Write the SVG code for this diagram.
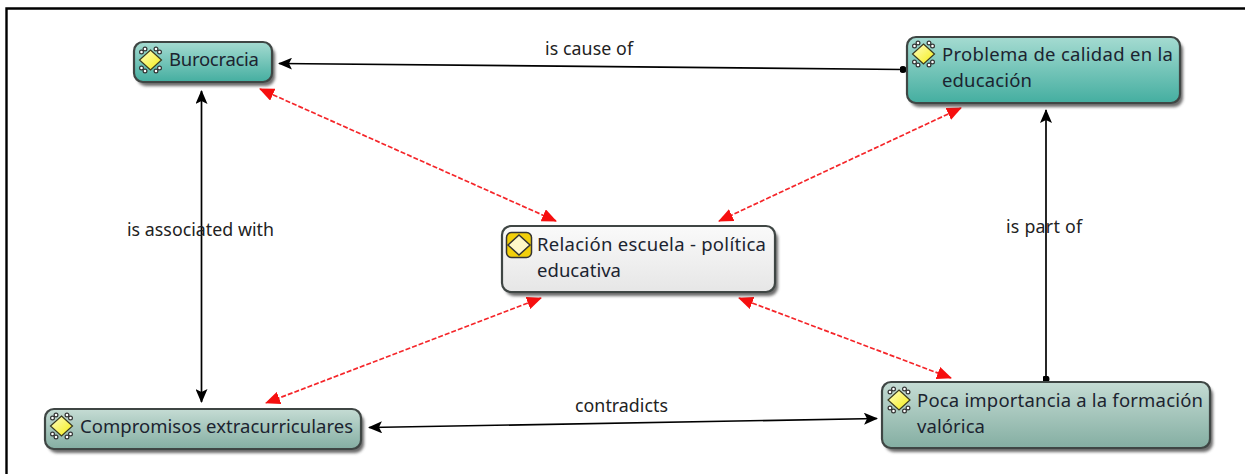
<svg xmlns="http://www.w3.org/2000/svg" width="1245" height="474" viewBox="0 0 1245 474">
<style>
text{font-family:"Noto Sans","Open Sans","DejaVu Sans",sans-serif;font-size:18.5px;fill:#1c2430}
.box{stroke:#3f4644;stroke-width:2.2}
.shadow{fill:#444;opacity:.8;filter:url(#soft)}
.link{fill:none;stroke:#000;stroke-width:1.7}
.rel{fill:none;stroke:#f5262a;stroke-width:1.7;stroke-dasharray:5 2}
.lbl{font-size:17.8px;fill:#222}
</style>
<defs>
<filter id="soft" x="-10%" y="-20%" width="120%" height="140%"><feGaussianBlur stdDeviation="1.6"/></filter>
<linearGradient id="teal" x1="0" y1="0" x2="0" y2="1"><stop offset="0" stop-color="#a5dbd1"/><stop offset="1" stop-color="#44aea0"/></linearGradient>
<linearGradient id="sage2" x1="0" y1="0" x2="0" y2="1"><stop offset="0" stop-color="#c5dcd4"/><stop offset="1" stop-color="#84aea2"/></linearGradient>
<linearGradient id="grey" x1="0" y1="0" x2="0" y2="1"><stop offset="0" stop-color="#fafafa"/><stop offset="1" stop-color="#e6e6e6"/></linearGradient>
<linearGradient id="yel" x1="0" y1="0" x2="1" y2="1"><stop offset="0" stop-color="#ffffc8"/><stop offset="1" stop-color="#f4ec10"/></linearGradient>
<marker id="a" viewBox="0 0 14 12" refX="13" refY="6" markerWidth="14" markerHeight="12" markerUnits="userSpaceOnUse" orient="auto-start-reverse"><path d="M0 0L14 6L0 12L3 6Z" fill="#000"/></marker>
<marker id="r" viewBox="0 0 15 13" refX="14" refY="6.500" markerWidth="15" markerHeight="13" markerUnits="userSpaceOnUse" orient="auto-start-reverse"><path d="M0 0L15 6.500L0 13Z" fill="#f60f0f"/></marker>
<marker id="d" viewBox="0 0 8 8" refX="4" refY="4" markerWidth="7" markerHeight="7" markerUnits="userSpaceOnUse"><circle cx="4" cy="4" r="4" fill="#000"/></marker>
<g id="ic">
<g fill="#fff" stroke="#333" stroke-width="1.200"><circle cx="-9" cy="-8" r="1.900"/><circle cx="-5.500" cy="-11" r="1.900"/><circle cx="5.500" cy="-11" r="1.900"/><circle cx="9" cy="-8" r="1.900"/><circle cx="-9" cy="8" r="1.900"/><circle cx="-5.500" cy="11" r="1.900"/><circle cx="5.500" cy="11" r="1.900"/><circle cx="9" cy="8" r="1.900"/></g>
<path d="M0-10L11 0L0 10L-11 0Z" fill="url(#yel)" stroke="#3a3a20" stroke-width="1.200"/>
</g>
<g id="ic2">
<rect x="-12.500" y="-12.500" width="25" height="25" rx="5" fill="#f2cf0a" stroke="#333" stroke-width="1.500"/>
<path d="M0-10L11 0L0 10L-11 0Z" fill="#fff8c8" stroke="#333" stroke-width="1.500"/>
</g>
</defs>
<rect width="1245" height="474" fill="#fff"/>
<path d="M6.500 474V8.500H1245" fill="none" stroke="#000" stroke-width="2.400"/>
<g id="connectors">
<path class="link" d="M903 69.500L279 63.500" marker-start="url(#d)" marker-end="url(#a)"/>
<path class="link" d="M201.500 91V402" marker-start="url(#a)" marker-end="url(#a)"/>
<path class="link" d="M1046 379V110" marker-start="url(#d)" marker-end="url(#a)"/>
<path class="link" d="M369 427.500L877 418.500" marker-start="url(#a)" marker-end="url(#a)"/>
<path class="rel" d="M260 89L556 221" marker-start="url(#r)" marker-end="url(#r)"/>
<path class="rel" d="M961 108L719 221" marker-start="url(#r)" marker-end="url(#r)"/>
<path class="rel" d="M541 298L266 403" marker-start="url(#r)" marker-end="url(#r)"/>
<path class="rel" d="M739 298L951 378" marker-start="url(#r)" marker-end="url(#r)"/>
<text class="lbl" x="545" y="55" textLength="88">is cause of</text>
<text class="lbl" x="127" y="236" textLength="147">is associated with</text>
<text class="lbl" x="1006" y="233" textLength="76">is part of</text>
<text class="lbl" x="575" y="412" textLength="93">contradicts</text>
</g>
<g id="n-burocracia">
<rect class="shadow" x="137" y="46" width="138" height="40" rx="9"/>
<rect class="box" x="134" y="42" width="138" height="40" rx="9" fill="url(#teal)"/>
<use href="#ic" x="150.500" y="60"/>
<text x="169" y="66" textLength="90">Burocracia</text>
</g>
<g id="n-problema">
<rect class="shadow" x="910" y="41" width="273" height="66" rx="9"/>
<rect class="box" x="907" y="37" width="273" height="66" rx="9" fill="url(#teal)"/>
<use href="#ic" x="923.500" y="54"/>
<text x="942" y="61" textLength="231">Problema de calidad en la</text>
<text x="942" y="87" textLength="90">educación</text>
</g>
<g id="n-relacion">
<rect class="shadow" x="505" y="230" width="273" height="66" rx="9"/>
<rect class="box" x="502" y="226" width="273" height="66" rx="9" fill="url(#grey)"/>
<use href="#ic2" x="519" y="245"/>
<text x="537" y="251" textLength="229">Relación escuela - política</text>
<text x="537" y="277" textLength="84">educativa</text>
</g>
<g id="n-compromisos">
<rect class="shadow" x="48" y="413" width="316" height="40" rx="9"/>
<rect class="box" x="45" y="409" width="316" height="40" rx="9" fill="url(#sage2)"/>
<use href="#ic" x="61.500" y="426"/>
<text x="80" y="433" textLength="273">Compromisos extracurriculares</text>
</g>
<g id="n-poca">
<rect class="shadow" x="885" y="386" width="328" height="66" rx="9"/>
<rect class="box" x="882" y="382" width="328" height="66" rx="9" fill="url(#sage2)"/>
<use href="#ic" x="899" y="400"/>
<text x="917" y="407" textLength="286">Poca importancia a la formación</text>
<text x="917" y="433" textLength="68">valórica</text>
</g>
</svg>
